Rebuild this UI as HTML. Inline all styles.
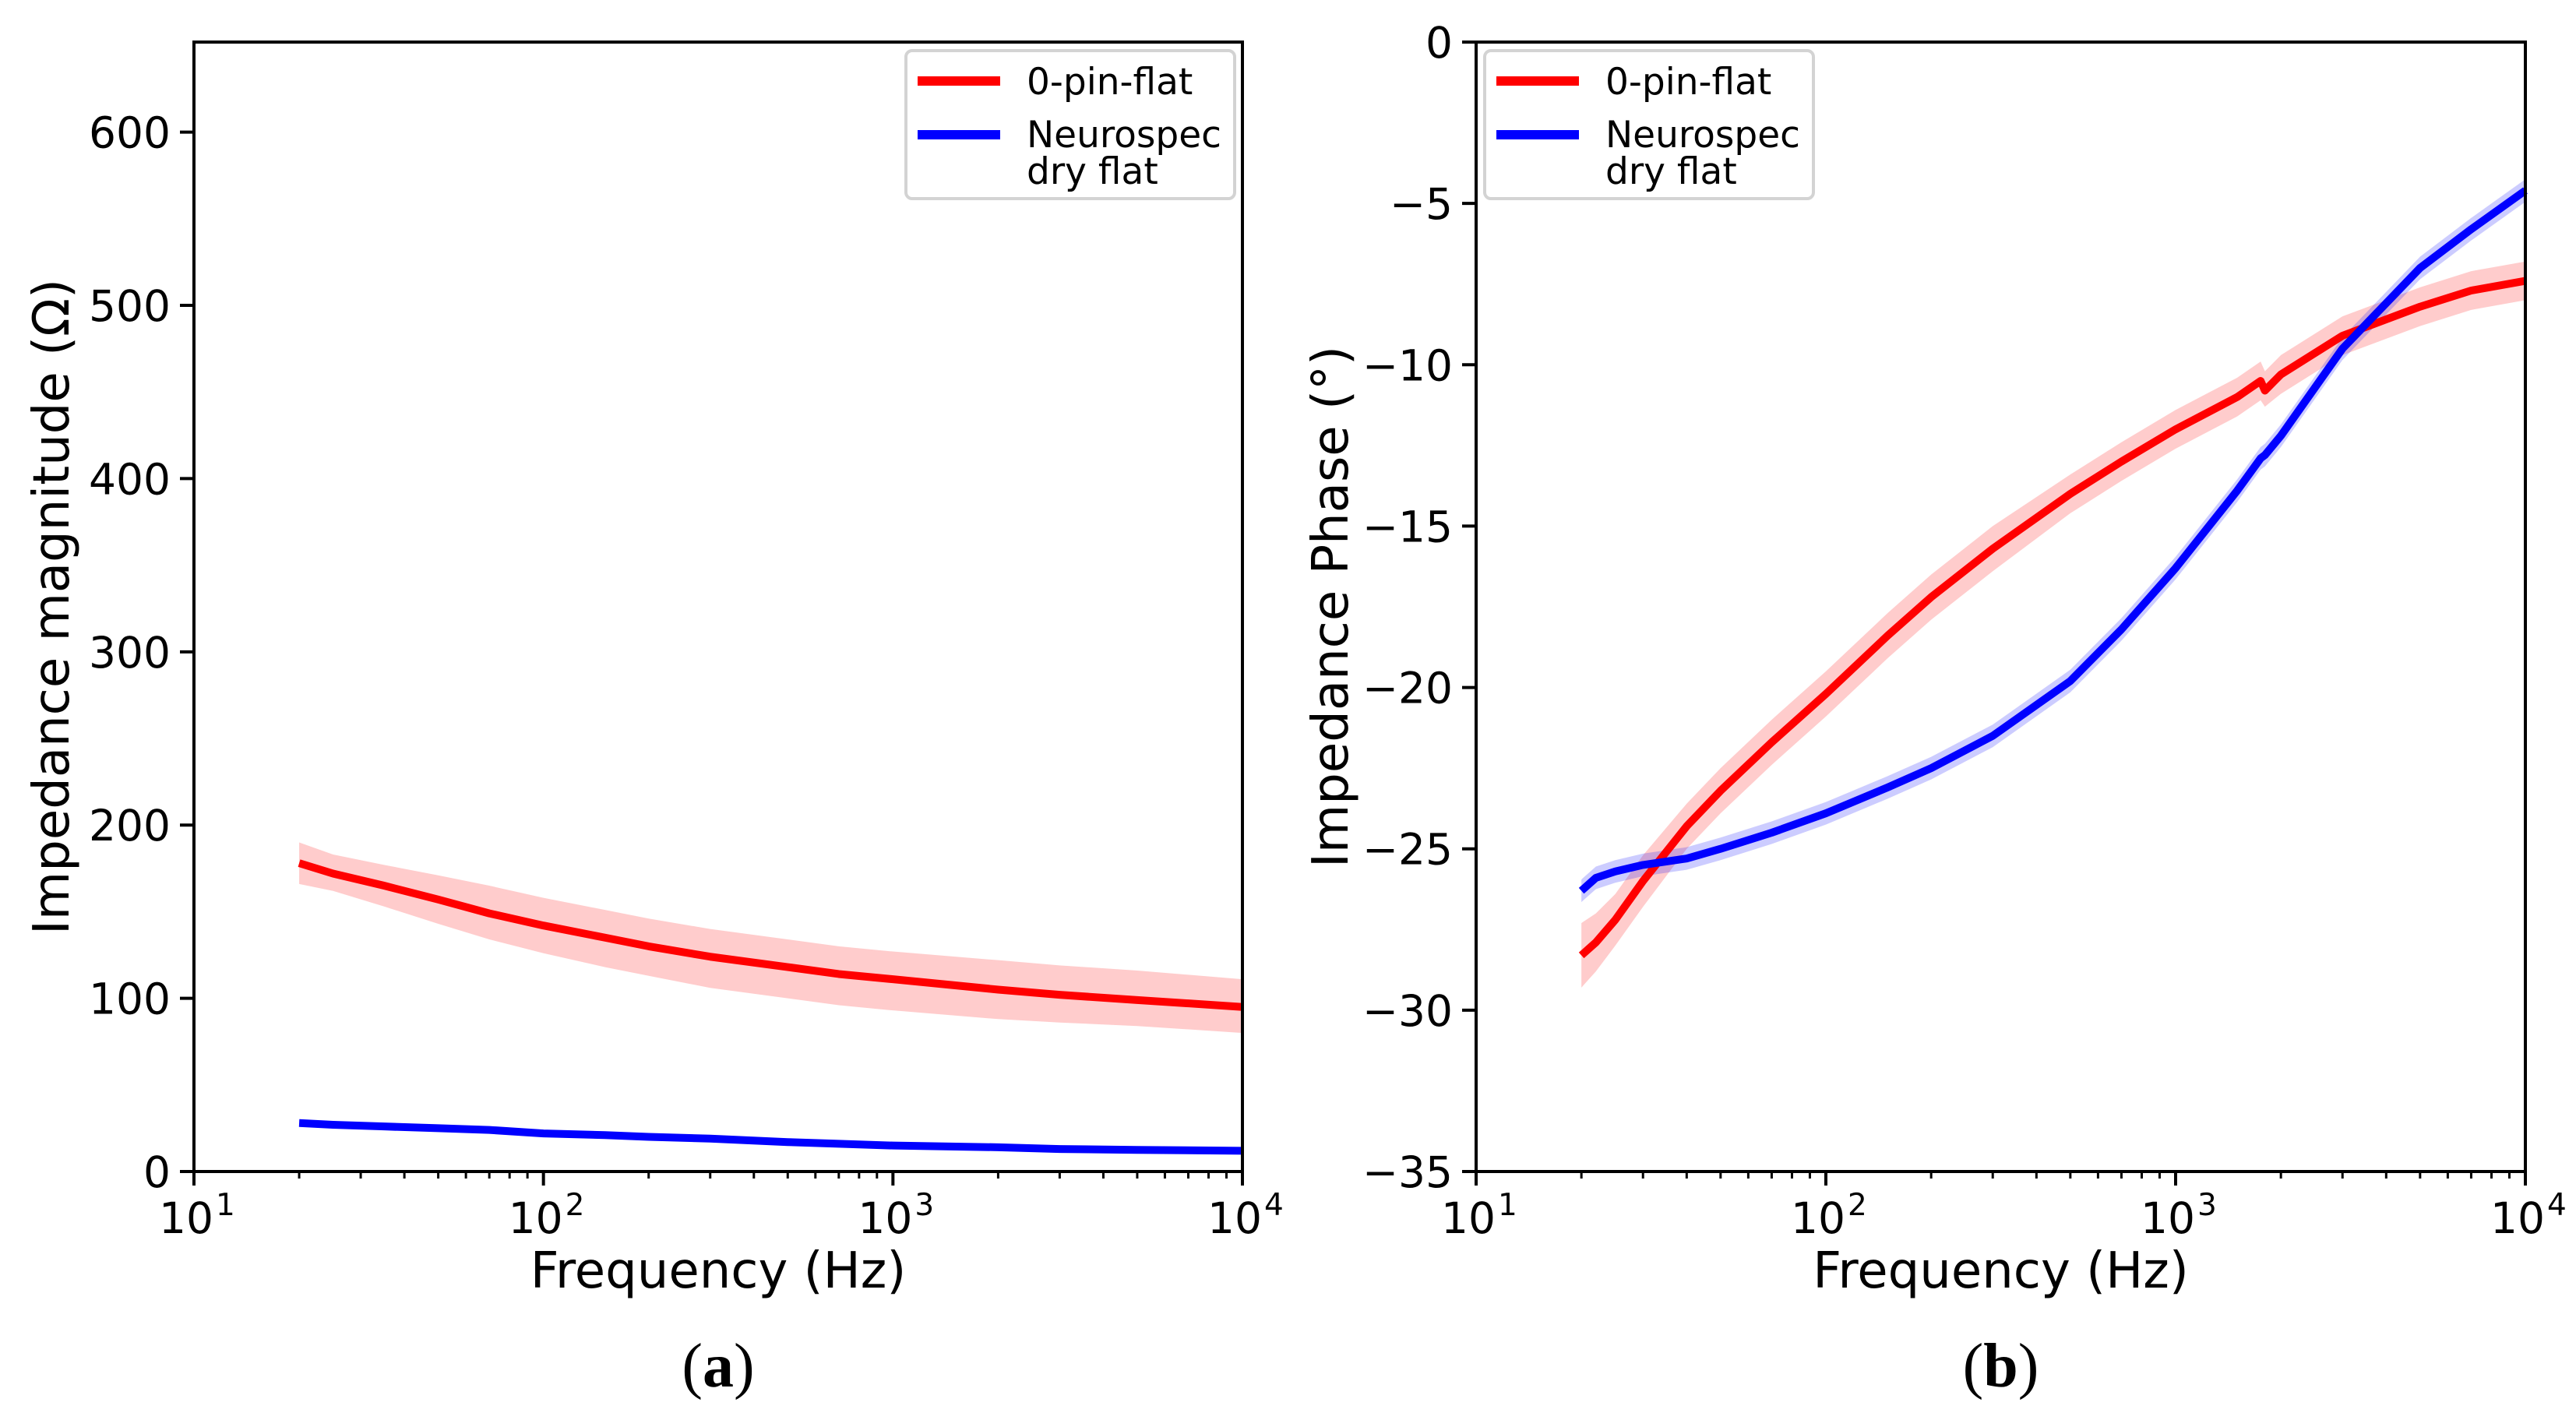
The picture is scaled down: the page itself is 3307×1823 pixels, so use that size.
<!DOCTYPE html>
<html><head><meta charset="utf-8"><style>
html,body{margin:0;padding:0;background:#fff;}
svg{display:block;font-family:"DejaVu Sans","Liberation Sans",sans-serif;}
</style></head><body>
<svg id="fig" width="3307" height="1823" viewBox="0 0 3307 1823" xmlns="http://www.w3.org/2000/svg">
<rect width="3307" height="1823" fill="#fff"/>
</svg>
<script>
// ---- data ----
const freqMag = [20, 25, 35, 50, 70, 100, 150, 200, 300, 500, 700, 1000, 2000, 3000, 5000, 10000];
const redMag = [178, 172, 165, 157, 149, 142, 135, 130, 124, 118, 114, 111, 105, 102, 99, 95];
const redMagLo = [166, 162, 153, 143, 134, 126, 118, 113, 106, 100, 96, 93, 88, 86, 84, 80];
const redMagHi = [190, 183, 177, 171, 165, 158, 151, 146, 140, 134, 130, 127, 122, 119, 116, 111];
const blueMag = [28, 27, 26, 25, 24, 22, 21, 20, 19, 17, 16, 15, 14, 13, 12.5, 12];
const freqPh = [20, 22, 25, 30, 40, 50, 70, 100, 150, 200, 300, 500, 700, 1000, 1500, 1750, 1800, 2000, 3000, 5000, 7000, 10000];
const redPh = [-28.3, -27.9, -27.2, -26.0, -24.3, -23.2, -21.7, -20.2, -18.4, -17.2, -15.7, -14.0, -13.0, -12.0, -11.0, -10.5, -10.8, -10.3, -9.1, -8.2, -7.7, -7.4];
const redPhLo = [-29.3, -28.8, -28.0, -26.8, -25.0, -23.9, -22.4, -20.9, -19.1, -17.9, -16.4, -14.6, -13.6, -12.6, -11.6, -11.1, -11.3, -10.9, -9.7, -8.8, -8.3, -8.0];
const redPhHi = [-27.3, -27.0, -26.4, -25.2, -23.6, -22.5, -21.0, -19.5, -17.7, -16.5, -15.0, -13.4, -12.4, -11.4, -10.4, -9.9, -10.2, -9.7, -8.5, -7.6, -7.1, -6.8];
const bluePh = [-26.3, -25.9, -25.7, -25.5, -25.3, -25.0, -24.5, -23.9, -23.1, -22.5, -21.5, -19.8, -18.2, -16.3, -13.9, -12.9, -12.8, -12.2, -9.5, -7.0, -5.8, -4.6];
const magTicks = [0, 100, 200, 300, 400, 500, 600];
const phTicks = [0, -5, -10, -15, -20, -25, -30, -35];
const decadeTicks = [1, 2, 3, 4];

const NS = "http://www.w3.org/2000/svg";
const svg = document.getElementById('fig');
function mk(tag, attrs, parent) {
  const e = document.createElementNS(NS, tag);
  for (const k in attrs) e.setAttribute(k, attrs[k]);
  (parent || svg).appendChild(e);
  return e;
}
const top0 = 54, bot0 = 1504;
function makeX(x0, x1) { return f => x0 + (Math.log10(f) - 1) / 3 * (x1 - x0); }
function makeY(vmin, vmax) { return v => bot0 - (v - vmin) / (vmax - vmin) * (bot0 - top0); }

function drawPanel(o) {
  const g = mk('g', {});
  
  
  const X = makeX(o.x0, o.x1), Y = makeY(o.ymin, o.ymax);
  let d = '';
  o.freq.forEach((f, i) => { d += (i ? 'L' : 'M') + X(f) + ',' + Y(o.hi[i]); });
  for (let i = o.freq.length - 1; i >= 0; i--) d += 'L' + X(o.freq[i]) + ',' + Y(o.lo[i]);
  const band = mk('path', {d: d + 'Z', fill: '#ff0000', 'fill-opacity': 0.2, stroke: 'none'}, g);
  
  
  if (o.blueBand) {
    let d2 = '';
    o.freq.forEach((f, i) => { d2 += (i ? 'L' : 'M') + X(f) + ',' + Y(o.blue[i] + 0.35); });
    for (let i = o.freq.length - 1; i >= 0; i--) d2 += 'L' + X(o.freq[i]) + ',' + Y(o.blue[i] - 0.35);
    const bb = mk('path', {d: d2 + 'Z', fill: '#0000ff', 'fill-opacity': 0.2}, g);
    
    
  }
  const line = (vals, col, nm) => {
    const p = mk('polyline', {points: o.freq.map((f, i) => X(f) + ',' + Y(vals[i])).join(' '), fill: 'none', stroke: col, 'stroke-width': 10, 'stroke-linejoin': 'round'}, g);
    
    
  };
  line(o.red, '#ff0000', 'zero-pin-flat-line');
  line(o.blue, '#0000ff', 'neurospec-line');
  const fr = mk('rect', {x: o.x0, y: top0, width: o.x1 - o.x0, height: bot0 - top0, fill: 'none', stroke: '#000', 'stroke-width': 4}, g);
  
  
  for (let dec = 1; dec <= 3; dec++) for (let m = 2; m <= 9; m++) {
    const x = X(m * Math.pow(10, dec));
    mk('line', {x1: x, x2: x, y1: bot0, y2: bot0 + 9, stroke: '#000', 'stroke-width': 3}, g);
  }
  decadeTicks.forEach(e => {
    const x = X(Math.pow(10, e));
    mk('line', {x1: x, x2: x, y1: bot0, y2: bot0 + 18, stroke: '#000', 'stroke-width': 4}, g);
    const t = mk('text', {x: x - 10, y: 1583, 'font-size': 55, 'text-anchor': 'middle'}, g);
    
    
    t.textContent = '10';
    const s = mk('text', {x: x + 28, y: 1560, 'font-size': 39}, g);
    s.textContent = String(e);
  });
  o.ticks.forEach(v => {
    const y = Y(v);
    mk('line', {x1: o.x0 - 18, x2: o.x0, y1: y, y2: y, stroke: '#000', 'stroke-width': 4}, g);
    const t = mk('text', {x: o.x0 - 30, y: y + 20, 'font-size': 55, 'text-anchor': 'end'}, g);
    
    
    t.textContent = v < 0 ? '\u2212' + Math.abs(v) : String(v);
  });
  const xl = mk('text', {x: (o.x0 + o.x1) / 2, y: 1653, 'font-size': 64, 'text-anchor': 'middle'}, g);
  
  
  xl.textContent = 'Frequency (Hz)';
  const yl = mk('text', {x: 0, y: 0, 'font-size': 64, 'text-anchor': 'middle', transform: 'translate(' + o.ylx + ',' + (top0 + bot0) / 2 + ') rotate(-90)'}, g);
  
  
  yl.textContent = o.ylabel;
  const cap = mk('text', {x: (o.x0 + o.x1) / 2, y: 1780, 'font-size': 80, 'text-anchor': 'middle', 'font-family': '"Liberation Serif", serif'}, g);
  
  
  cap.innerHTML = '(<tspan font-weight="bold">' + o.cap + '</tspan>)';
  const lg = mk('g', {}, g);
  
  
  mk('rect', {x: o.lx, y: 65, width: 422, height: 190, rx: 8, fill: '#fff', 'fill-opacity': 0.8, stroke: '#d3d3d3', 'stroke-width': 4}, lg);
  mk('line', {x1: o.lx + 15, x2: o.lx + 121, y1: 104, y2: 104, stroke: '#ff0000', 'stroke-width': 12}, lg);
  mk('line', {x1: o.lx + 15, x2: o.lx + 121, y1: 173, y2: 173, stroke: '#0000ff', 'stroke-width': 12}, lg);
  const t1 = mk('text', {x: o.lx + 155, y: 121, 'font-size': 47}, lg); t1.textContent = '0-pin-flat';
  
  
  const t2 = mk('text', {x: o.lx + 155, y: 189, 'font-size': 47}, lg); t2.textContent = 'Neurospec';
  
  
  const t3 = mk('text', {x: o.lx + 155, y: 236, 'font-size': 47}, lg); t3.textContent = 'dry flat';
}

drawPanel({name: 'panel-a-magnitude', x0: 249, x1: 1595, ymin: 0, ymax: 652, freq: freqMag, red: redMag, lo: redMagLo, hi: redMagHi, blue: blueMag, ticks: magTicks, ylabel: 'Impedance magnitude (\u03A9)', ylx: 88, cap: 'a', lx: 1163});
drawPanel({name: 'panel-b-phase', x0: 1895, x1: 3242, ymin: -35, ymax: 0, freq: freqPh, red: redPh, lo: redPhLo, hi: redPhHi, blue: bluePh, ticks: phTicks, ylabel: 'Impedance Phase (\u00B0)', ylx: 1730, cap: 'b', lx: 1906, blueBand: true});
</script>
</body></html>
